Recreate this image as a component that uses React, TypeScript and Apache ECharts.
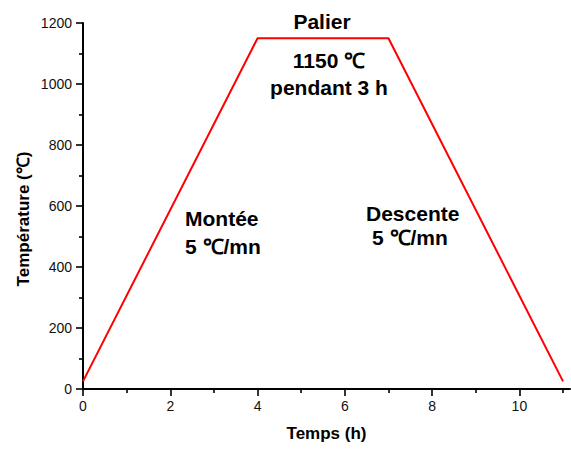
import React, { useEffect, useRef } from "react";
import * as echarts from "echarts";

// Data
const timeHours = [0, 4, 7, 11];
const temperatures = [25, 1150, 1150, 25];
const xMajorTicks = [0, 2, 4, 6, 8, 10];
const xMinorTicks = [1, 3, 5, 7, 9, 11];
const xTitle = "Temps (h)";
const yTitle = "Température (℃)";
const annotations = [
  { text: "Palier", x: 322, y: 21, align: "center" },
  { text: "1150 ℃", x: 329, y: 60, align: "center" },
  { text: "pendant 3 h", x: 329, y: 87, align: "center" },
  { text: "Montée", x: 185, y: 218, align: "left" },
  { text: "5 ℃/mn", x: 185, y: 246, align: "left" },
  { text: "Descente", x: 366, y: 213, align: "left" },
  { text: "5 ℃/mn", x: 372, y: 237.5, align: "left" },
];

const FONT = '"Liberation Sans", Arial, sans-serif';

export default function App() {
  const ref = useRef<HTMLDivElement>(null);

  useEffect(() => {
    if (!ref.current) return;
    const chart = echarts.init(ref.current, null, { renderer: "svg" });
    const axisLineStyle = { color: "#000", width: 2 };
    const tickStyle = { color: "#000", width: 1.6 };
    chart.setOption({
      animation: false,
      backgroundColor: "#fff",
      textStyle: { fontFamily: FONT },
      grid: { left: 83, right: 1, top: 23, bottom: 60 },
      xAxis: [
        {
          type: "value",
          min: 0,
          max: 11.16,
          position: "bottom",
          axisLine: { show: true, onZero: false, lineStyle: axisLineStyle },
          axisTick: { show: true, length: 7, customValues: xMajorTicks, lineStyle: tickStyle },
          axisLabel: {
            show: true,
            customValues: xMajorTicks,
            margin: 10,
            fontSize: 14,
            color: "#111",
            fontFamily: FONT,
            formatter: (v: number) => String(v),
          },
          splitLine: { show: false },
          name: xTitle,
          nameLocation: "middle",
          nameGap: 36,
          nameTextStyle: { fontSize: 17, fontWeight: "bold", color: "#000", fontFamily: FONT },
        },
        {
          type: "value",
          min: 0,
          max: 11.16,
          position: "bottom",
          axisLine: { show: false },
          axisTick: { show: true, length: 4, customValues: xMinorTicks, lineStyle: tickStyle },
          axisLabel: { show: false },
          splitLine: { show: false },
        },
      ],
      yAxis: {
        type: "value",
        min: 0,
        max: 1200,
        interval: 200,
        axisLine: { show: true, onZero: false, lineStyle: axisLineStyle },
        axisTick: { show: true, length: 7, lineStyle: tickStyle },
        minorTick: { show: true, splitNumber: 2, length: 4, lineStyle: tickStyle },
        axisLabel: {
          margin: 11,
          fontSize: 14,
          color: "#111",
          fontFamily: FONT,
          formatter: (v: number) => String(v),
        },
        splitLine: { show: false },
        minorSplitLine: { show: false },
      },
      series: [
        {
          type: "line",
          xAxisIndex: 0,
          data: timeHours.map((t, i) => [t, temperatures[i]]),
          symbol: "none",
          lineStyle: { color: "#ff0000", width: 2 },
          silent: true,
        },
      ],
      graphic: [
        {
          type: "text",
          x: 23,
          y: 219,
          rotation: Math.PI / 2,
          style: {
            text: yTitle,
            font: `bold 17px ${FONT}`,
            fill: "#000",
            align: "center",
            verticalAlign: "middle",
          },
        },
        ...annotations.map((a) => ({
          type: "text",
          x: a.x,
          y: a.y,
          style: {
            text: a.text,
            font: `bold 21px ${FONT}`,
            fill: "#000",
            align: a.align,
            verticalAlign: "middle",
          },
        })),
      ],
    });
    return () => chart.dispose();
  }, []);

  return (
    <div
      ref={ref}
      style={{ position: "fixed", left: 0, top: 0, width: 571, height: 449 }}
    />
  );
}
